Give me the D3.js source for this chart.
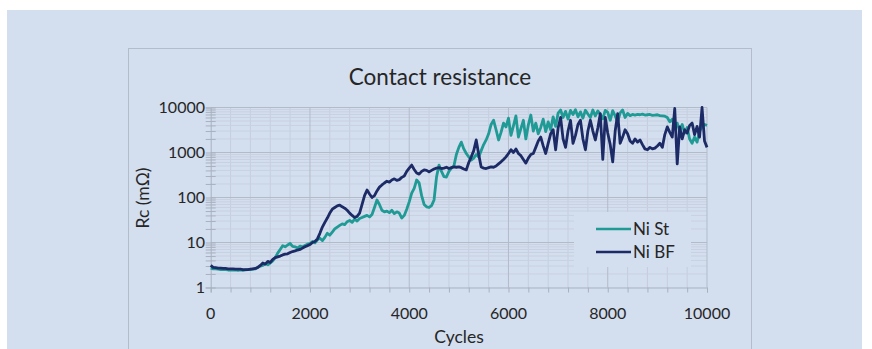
<!DOCTYPE html>
<html><head><meta charset="utf-8">
<script src="https://cdn.jsdelivr.net/npm/d3@7"></script>
<style>html,body{margin:0;padding:0;background:#fff;}svg{display:block;}</style>
</head><body>
<script>
// ---- data ----
const cycleStep = 50;
const seriesNames = ["Ni St", "Ni BF"];
const niSt = [
2.7,2.6,2.6,2.55,2.5,2.5,2.5,2.45,2.45,2.45,2.45,2.4,2.45,2.4,2.45,2.5,2.5,2.55,2.6,2.8,
3.0,3.1,3.4,3.2,3.5,3.9,4.6,5.8,7.0,8.5,8.0,8.8,9.5,8.2,8.0,7.5,8.3,8.0,8.6,9.2,
9.5,10.5,9.8,11.5,12.5,11,13,16,14.5,17,20,22,24,26,25,29,31,28,33,30,
34,36,38,40,37,42,60,88,70,52,48,50,46,52,44,48,45,35,40,55,
80,125,160,245,210,110,70,62,60,66,88,285,525,380,290,285,380,450,500,900,
1300,1700,1200,950,800,680,750,900,800,1100,1500,1900,2600,4200,5200,3200,1900,2800,4500,3700,
5800,2400,3900,6500,2200,3400,5200,2000,4100,6800,3000,4500,2600,3600,5500,2900,4800,3200,6200,3800,
7500,8800,6000,8200,5500,8600,7000,8900,6200,8000,5800,8700,7200,6000,8800,6500,8400,7000,5600,8600,
7800,5200,8500,6500,4800,7600,8800,6000,7400,6600,7000,6800,7000,6900,7100,6800,6900,7000,6700,6800,
6900,6600,6500,6400,6000,4800,5500,3500,4500,3000,4200,2700,3600,2000,1600,2200,1700,3000,3700,4200,
4000];
const niBF = [
3.1,2.8,2.75,2.7,2.7,2.65,2.65,2.6,2.6,2.6,2.55,2.55,2.55,2.5,2.5,2.5,2.55,2.6,2.65,2.8,
3.1,3.5,3.3,3.8,3.6,4.2,4.6,4.8,5.0,5.3,5.5,5.6,6.0,6.3,6.5,6.8,7.0,7.5,8.0,8.5,
9.0,10,10.5,12,16,22,28,35,45,55,60,65,68,62,58,52,45,40,36,38,
45,70,110,147,120,100,110,140,170,190,210,230,220,245,260,240,250,280,300,380,
450,525,420,350,330,380,410,400,370,400,430,450,460,440,450,470,440,460,480,470,
480,460,430,410,600,800,1100,1900,900,475,450,440,460,480,470,500,560,620,700,800,
950,1150,1000,1200,950,850,700,580,750,900,950,1300,1800,2200,1400,950,1600,2600,3200,1150,
3500,6000,2000,1300,3000,5200,1600,2400,4200,5200,2000,1150,3000,5200,3000,1900,3500,7300,700,6000,
2700,1500,620,3000,7300,1600,2200,3200,2600,1800,1600,2000,1700,1900,1500,1200,1150,1300,1200,1250,
1400,1600,1300,2500,3700,2800,2200,9500,560,3700,2000,3200,2700,4000,4500,2500,3800,2200,10000,1800,
1300];
const xTicks = [0, 2000, 4000, 6000, 8000, 10000];
const yTicks = [1, 10, 100, 1000, 10000];
const colors = ["#1f9a95", "#1c2a66"];

// ---- layout ----
const W = 872, H = 349;
const bg = "#d3deef";
const svg = d3.select("body").append("svg").attr("width", W).attr("height", H);
svg.append("rect").attr("x", 7).attr("y", 10).attr("width", 855).attr("height", H - 10).attr("fill", bg);
svg.append("rect").attr("x", 128.5).attr("y", 48.5).attr("width", 623).attr("height", 320)
  .attr("fill", bg).attr("stroke", "#b3bccb").attr("stroke-width", 1);

const x = d3.scaleLinear().domain([0, 10000]).range([210.7, 707]);
const y = d3.scaleLog().domain([1, 10000]).range([287.5, 107.5]);
const font = "Lato, 'Open Sans', sans-serif";
const txt = "#262626";

// minor gridlines
const g = svg.append("g");
const minorX = d3.range(400, 10001, 400).filter(v => v % 2000 !== 0);
g.selectAll(".mx").data(minorX).enter().append("line")
  .attr("x1", d => x(d)).attr("x2", d => x(d)).attr("y1", y(10000)).attr("y2", y(1))
  .attr("stroke", "#c5cede").attr("stroke-width", 1);
const minorY = [];
for (let dec = 1; dec < 10000; dec *= 10) for (let k = 2; k <= 9; k++) minorY.push(dec * k);
g.selectAll(".my").data(minorY).enter().append("line")
  .attr("x1", x(0)).attr("x2", x(10000)).attr("y1", d => y(d)).attr("y2", d => y(d))
  .attr("stroke", "#c8d1e0").attr("stroke-width", 1);
// major gridlines
g.selectAll(".Mx").data(xTicks.slice(1)).enter().append("line")
  .attr("x1", d => x(d)).attr("x2", d => x(d)).attr("y1", y(10000)).attr("y2", y(1))
  .attr("stroke", "#b3bbc9").attr("stroke-width", 1);
g.selectAll(".My").data(yTicks.slice(1)).enter().append("line")
  .attr("x1", x(0)).attr("x2", x(10000)).attr("y1", d => y(d)).attr("y2", d => y(d))
  .attr("stroke", "#b3bbc9").attr("stroke-width", 1);

// axes
const xAxis = d3.axisBottom(x).tickValues(d3.range(0, 10001, 400)).tickSize(5).tickFormat("");
const xa = svg.append("g").attr("transform", `translate(0,${y(1)})`).call(xAxis);
xa.select(".domain").attr("stroke", "#a9b1bf");
xa.selectAll(".tick line").attr("stroke", "#a9b1bf");
svg.append("g").selectAll("text").data(xTicks).enter().append("text")
  .attr("x", d => x(d)).attr("y", 318.5).attr("text-anchor", "middle")
  .attr("font-family", font).attr("font-size", 16).attr("fill", txt).text(d => d);

const yAxis = d3.axisLeft(y).tickValues(minorY.concat(yTicks)).tickSize(5).tickFormat("");
const ya = svg.append("g").attr("transform", `translate(${x(0)},0)`).call(yAxis);
ya.select(".domain").attr("stroke", "#a9b1bf");
ya.selectAll(".tick line").attr("stroke", "#a9b1bf").attr("x2", -5).attr("x1", 5);
svg.append("g").selectAll("text").data(yTicks).enter().append("text")
  .attr("x", 205).attr("y", d => y(d)).attr("dy", "0.36em").attr("text-anchor", "end")
  .attr("font-family", font).attr("font-size", 16).attr("fill", txt).text(d => d);

// lines
const line = d3.line().x((d, i) => x(i * cycleStep)).y(d => y(d));
[niSt, niBF].forEach((s, i) => {
  svg.append("path").datum(s).attr("d", line).attr("fill", "none")
    .attr("stroke", colors[i]).attr("stroke-width", 2.8).attr("stroke-linejoin", "round");
});

// legend
svg.append("rect").attr("x", 574).attr("y", 212).attr("width", 117).attr("height", 55).attr("fill", bg);
seriesNames.forEach((n, i) => {
  const ly = 229 + i * 23;
  svg.append("line").attr("x1", 596).attr("x2", 631).attr("y1", ly).attr("y2", ly)
    .attr("stroke", colors[i]).attr("stroke-width", 2.6);
  svg.append("text").attr("x", 633).attr("y", ly).attr("dy", "0.36em")
    .attr("font-family", font).attr("font-size", 17).attr("fill", txt).text(n);
});

// titles
svg.append("text").attr("x", 440).attr("y", 85).attr("text-anchor", "middle")
  .attr("font-family", font).attr("font-size", 22.5).attr("fill", txt).text("Contact resistance");
svg.append("text").attr("x", 459).attr("y", 343).attr("text-anchor", "middle")
  .attr("font-family", font).attr("font-size", 17.5).attr("fill", txt).text("Cycles");
svg.append("text").attr("transform", "translate(149,198) rotate(-90)").attr("text-anchor", "middle")
  .attr("font-family", font).attr("font-size", 17.5).attr("fill", txt).text("Rc (mΩ)");
</script>
</body></html>
